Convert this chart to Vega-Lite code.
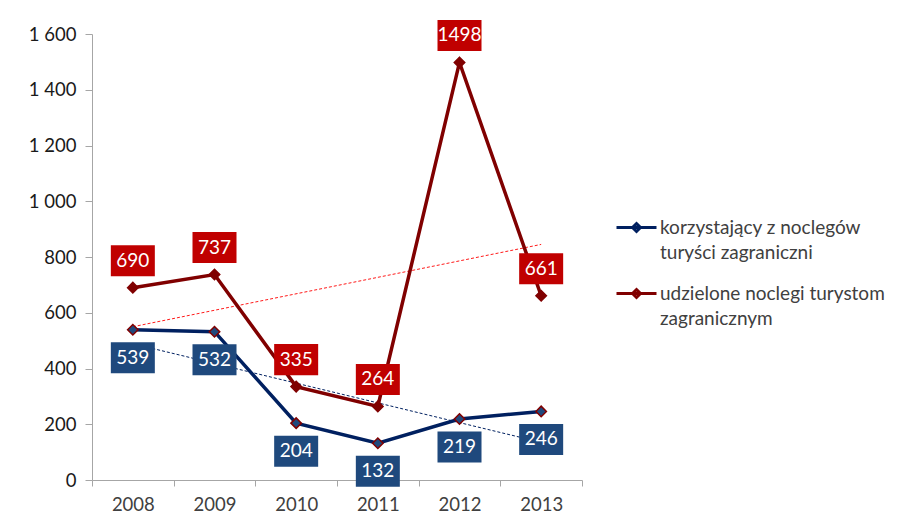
{
  "$schema": "https://vega.github.io/schema/vega-lite/v6.json",
  "width": 490,
  "height": 446,
  "autosize": {"type": "none"},
  "padding": {"left": 92, "top": 34, "right": 327, "bottom": 46},
  "background": "white",
  "config": {
    "view": {"stroke": null},
    "font": "Lato",
    "style": {"guide-label": {"lineHeight": 25}}
  },
  "data": {
    "values": [
      {"year": 2008, "series": "korzystający z noclegów turyści zagraniczni", "value": 539},
      {"year": 2009, "series": "korzystający z noclegów turyści zagraniczni", "value": 532},
      {"year": 2010, "series": "korzystający z noclegów turyści zagraniczni", "value": 204},
      {"year": 2011, "series": "korzystający z noclegów turyści zagraniczni", "value": 132},
      {"year": 2012, "series": "korzystający z noclegów turyści zagraniczni", "value": 219},
      {"year": 2013, "series": "korzystający z noclegów turyści zagraniczni", "value": 246},
      {"year": 2008, "series": "udzielone noclegi turystom zagranicznym", "value": 690},
      {"year": 2009, "series": "udzielone noclegi turystom zagranicznym", "value": 737},
      {"year": 2010, "series": "udzielone noclegi turystom zagranicznym", "value": 335},
      {"year": 2011, "series": "udzielone noclegi turystom zagranicznym", "value": 264},
      {"year": 2012, "series": "udzielone noclegi turystom zagranicznym", "value": 1498},
      {"year": 2013, "series": "udzielone noclegi turystom zagranicznym", "value": 661}
    ]
  },
  "encoding": {
    "x": {
      "field": "year",
      "type": "ordinal",
      "scale": {"domain": [2008, 2009, 2010, 2011, 2012, 2013], "paddingInner": 0, "paddingOuter": 0},
      "axis": {
        "title": null,
        "labelAngle": 0,
        "tickBand": "extent",
        "tickSize": 6,
        "tickColor": "#a6a6a6",
        "domainColor": "#a6a6a6",
        "labelFontSize": 18.5,
        "labelColor": "#404040",
        "labelPadding": 9
      }
    },
    "y": {
      "field": "value",
      "type": "quantitative",
      "scale": {"domain": [0, 1600], "nice": false},
      "axis": {
        "title": null,
        "values": [0, 200, 400, 600, 800, 1000, 1200, 1400, 1600],
        "labelExpr": "replace(format(datum.value, ','), ',', ' ')",
        "grid": false,
        "tickSize": 7,
        "tickColor": "#a6a6a6",
        "domainColor": "#a6a6a6",
        "labelFontSize": 18.5,
        "labelColor": "#1a1a1a",
        "labelPadding": 9
      }
    }
  },
  "layer": [
    {
      "transform": [{"regression": "value", "on": "year", "groupby": ["series"]}],
      "mark": {"type": "line", "strokeWidth": 1, "strokeDash": [3, 2]},
      "encoding": {
        "detail": {"field": "series"},
        "stroke": {
          "condition": {"test": "datum.series == 'korzystający z noclegów turyści zagraniczni'", "value": "#002060"},
          "value": "#ff1a1a"
        }
      }
    },
    {
      "mark": {"type": "line", "strokeWidth": 3.5},
      "encoding": {
        "color": {
          "field": "series",
          "type": "nominal",
          "scale": {
            "domain": ["korzystający z noclegów turyści zagraniczni", "udzielone noclegi turystom zagranicznym"],
            "range": ["#002060", "#800000"]
          },
          "legend": {
            "title": null,
            "orient": "none",
            "legendX": 523,
            "legendY": 172,
            "symbolType": "M-1,0H1M0,-0.2L0.2,0L0,0.2L-0.2,0Z",
            "symbolSize": 1600,
            "symbolStrokeWidth": 3,
            "labelFontSize": 19,
            "labelColor": "#404040",
            "labelLimit": 300,
            "labelOffset": 2,
            "rowPadding": 9,
            "labelExpr": "datum.label == 'korzystający z noclegów turyści zagraniczni' ? ['korzystający z noclegów', 'turyści zagraniczni'] : ['udzielone noclegi turystom', 'zagranicznym']"
          }
        }
      }
    },
    {
      "mark": {"type": "point", "shape": "diamond", "size": 110, "filled": true, "strokeWidth": 1.5, "opacity": 1},
      "encoding": {
        "fill": {
          "condition": {"test": "datum.series == 'korzystający z noclegów turyści zagraniczni'", "value": "#1f497d"},
          "value": "#800000"
        },
        "stroke": {"value": "#800000"}
      }
    },
    {
      "transform": [{"filter": "datum.series == 'korzystający z noclegów turyści zagraniczni'"}],
      "mark": {"type": "point", "shape": "M-1,-0.705H1V0.705H-1Z", "size": 1936, "filled": true, "fill": "#1f497d", "opacity": 1, "strokeWidth": 0, "yOffset": 28}
    },
    {
      "transform": [{"filter": "datum.series == 'korzystający z noclegów turyści zagraniczni'"}],
      "mark": {"type": "text", "color": "white", "fontSize": 19, "yOffset": 28, "baseline": "middle", "align": "center"},
      "encoding": {"text": {"field": "value", "type": "quantitative", "format": "d"}}
    },
    {
      "transform": [{"filter": "datum.series == 'udzielone noclegi turystom zagranicznym'"}],
      "mark": {"type": "point", "shape": "M-1,-0.705H1V0.705H-1Z", "size": 1936, "filled": true, "fill": "#c00000", "opacity": 1, "strokeWidth": 0, "yOffset": -27}
    },
    {
      "transform": [{"filter": "datum.series == 'udzielone noclegi turystom zagranicznym'"}],
      "mark": {"type": "text", "color": "white", "fontSize": 19, "yOffset": -27, "baseline": "middle", "align": "center"},
      "encoding": {"text": {"field": "value", "type": "quantitative", "format": "d"}}
    }
  ]
}
